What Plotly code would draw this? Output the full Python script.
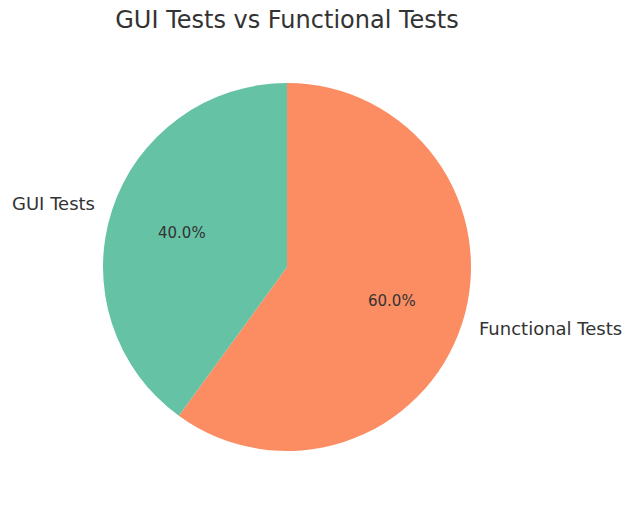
import math
import plotly.graph_objects as go

labels = ["GUI Tests", "Functional Tests"]
values = [40, 60]
colors = ["#66c2a5", "#fc8d62"]
title_text = "GUI Tests vs Functional Tests"

W, H = 639, 530
OFF = 8  # page body margin offset
cx, cy, r = 287 - OFF, 267 - OFF, 184  # pie centre and radius in figure pixels
FONT = "DejaVu Sans"
TXT = "#333333"

# matplotlib-style: first slice starts at 12 o'clock and runs counterclockwise,
# which equals the reversed order drawn clockwise
fig = go.Figure(go.Pie(
    labels=labels[::-1], values=values[::-1], sort=False,
    direction="clockwise", rotation=0,
    marker=dict(colors=colors[::-1], line=dict(width=0)),
    textinfo="none", hoverinfo="label+percent", showlegend=False,
    domain=dict(x=[(cx - r) / W, (cx + r) / W], y=[1 - (cy + r) / H, 1 - (cy - r) / H]),
))

total = sum(values)
start = 90.0
annotations = []
for lab, v in zip(labels, values):
    span = 360.0 * v / total
    mid = math.radians(start + span / 2)
    start += span
    lx = cx + 1.1 * r * math.cos(mid)
    ly = cy - 1.1 * r * math.sin(mid)
    left = math.cos(mid) < 0
    annotations.append(dict(
        x=lx / W, y=1 - ly / H, xref="paper", yref="paper",
        text=lab, showarrow=False, borderpad=0,
        xanchor="right" if left else "left", yanchor="middle",
        xshift=1 if left else -1, yshift=1,
        font=dict(family=FONT, size=18, color=TXT)))
    px = cx + 0.6 * r * math.cos(mid)
    py = cy - 0.6 * r * math.sin(mid)
    annotations.append(dict(
        x=px / W, y=1 - py / H, xref="paper", yref="paper",
        text=f"{100.0 * v / total:.1f}%", showarrow=False,
        xanchor="center", yanchor="middle",
        font=dict(family=FONT, size=15, color=TXT)))

fig.update_layout(
    width=W, height=H,
    margin=dict(l=0, r=0, t=0, b=0),
    paper_bgcolor="white", plot_bgcolor="white",
    title=dict(text=title_text, x=cx / W, xanchor="center", y=1 - (20 - OFF) / H, yanchor="middle",
               font=dict(family=FONT, size=24, color=TXT)),
    annotations=annotations,
)

fig.write_html("out.html")
